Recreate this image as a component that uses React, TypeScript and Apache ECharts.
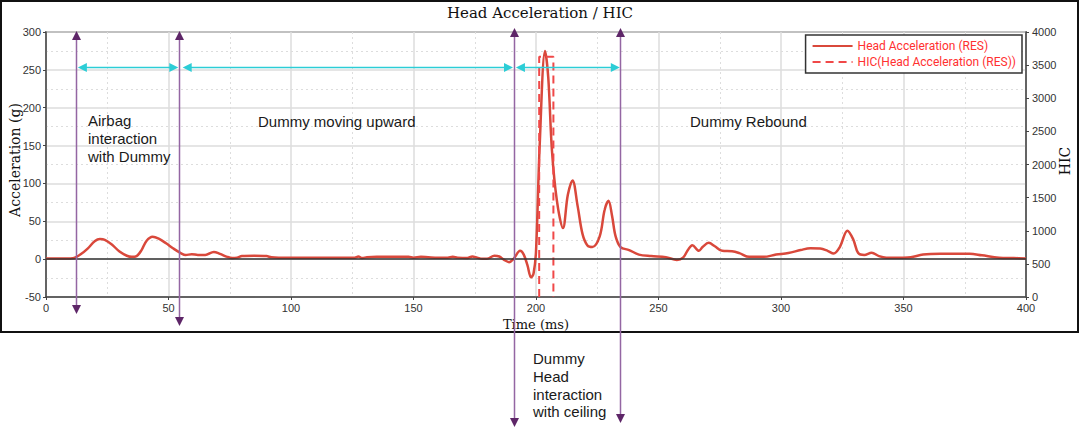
import React, { useEffect, useRef } from "react";
import * as echarts from "echarts";

// Time (ms) and head acceleration (g)
const timeMs = [0, 5, 10, 11.5, 14, 17, 20, 22, 24, 27, 30, 33, 35, 37, 39, 41, 43.5, 46, 49, 52, 55, 57, 59.5, 62, 65, 68.5, 71, 74, 76, 78, 80, 85, 90, 92, 95, 100, 110, 120, 126, 127.5, 129, 131, 135, 140, 148, 150, 153, 156, 160, 164, 166, 168, 172, 174, 176, 178, 180, 183, 185, 187, 189, 191, 193.5, 195, 196.5, 198, 199, 200, 201.5, 203.7, 205, 206.5, 208.5, 211, 213, 214.9, 217, 219, 221, 223, 226, 228, 229.6, 231, 232.5, 234.5, 238, 242, 247, 253, 257.5, 260, 262, 263.8, 266.5, 268, 270.5, 273, 276, 280, 283, 287, 293, 298, 303, 308, 312, 316, 319, 321.5, 324, 327.1, 329.5, 331.5, 334, 337, 340, 343, 350, 353, 358, 365, 377, 382, 389, 395, 400];
const accelG = [1, 1, 1, 1.5, 6, 14, 24, 26.5, 25.5, 19, 10, 4.5, 3, 4, 12, 24, 29.5, 27, 21, 14, 8, 5.5, 6.5, 5.5, 5.5, 9.5, 7, 3, 1.5, 2, 4, 4.5, 4, 2.5, 2, 2, 2, 2, 2, 3.5, 1.5, 2.5, 3, 3, 3, 2, 3, 2.5, 2, 2, 3, 2, 1.5, 3.5, 2, 0.5, 0.5, 4.5, 3.5, -1, -4, 1, 11, 6, -8, -24, -19, 10, 150, 275, 240, 144, 78, 41, 85, 104, 70, 33, 18, 16, 30, 65, 77, 58, 30, 16, 12, 6, 4, 2.5, -1, 2, 12, 18.5, 11, 16, 21.5, 17, 11, 10.5, 8, 3, 3, 6, 8, 12, 14.5, 14, 11, 7.5, 16, 37.5, 26, 8, 5.5, 8.5, 4, 2, 2, 2.5, 6, 7, 7, 5, 2, 1.5, 1];

// HIC window (ms) and value
const hicTime = [201.3, 201.3, 207.1, 207.1];
const hicValue = [0, 3625, 3625, 0];

const xTicks = { min: 0, max: 400, interval: 50 };
const yLeftTicks = { min: -50, max: 300, interval: 50 };
const yRightTicks = { min: 0, max: 4000, interval: 500 };

// Annotations (in data units of time / acceleration)
const phaseTimes = [12.3, 54.2, 191.1, 234.4];
const spanRanges = [[13, 54], [55.8, 190.6], [191.8, 234.2]];
const spanLevel = 254;

const ARROW_TOP = [31, 31, 28, 28];
const ARROW_BOTTOM = [314, 326, 427, 423];

const tickFont = "'Liberation Sans', Arial, sans-serif";
const serif = "'DejaVu Serif', serif";

export default function App() {
  const ref = useRef<HTMLDivElement>(null);
  useEffect(() => {
    document.body.style.margin = "0";
    const chart = echarts.init(ref.current!, undefined, { renderer: "svg" });
    const accelData = timeMs.map((t, i) => [t, accelG[i]]);
    const hicData = hicTime.map((t, i) => [t, hicValue[i]]);
    const axisLabel = { color: "#333", fontFamily: tickFont, fontSize: 11, formatter: (v: number) => String(v) };
    chart.setOption({
      animation: false,
      backgroundColor: "#fff",
      title: {
        text: "Head Acceleration / HIC",
        left: "center",
        top: 0,
        textStyle: { fontFamily: serif, fontSize: 15, fontWeight: "normal", color: "#111" },
      },
      grid: {
        left: 46,
        right: 54,
        top: 32,
        bottom: 140,
        show: true,
        borderColor: "#444",
        borderWidth: 1.5,
        containLabel: false,
        outerBoundsMode: "none",
      },
      legend: {
        orient: "vertical",
        right: 58,
        top: 35,
        itemWidth: 40,
        itemHeight: 10,
        itemGap: 4,
        padding: [5, 6, 5, 6],
        borderColor: "#333",
        borderWidth: 1.5,
        backgroundColor: "#fff",
        itemStyle: { opacity: 0 },
        textStyle: { color: "#ff3030", fontSize: 12, fontFamily: "Roboto, sans-serif" },
        data: ["Head Acceleration (RES)", "HIC(Head Acceleration (RES))"],
      },
      xAxis: {
        type: "value",
        ...xTicks,
        name: "Time (ms)",
        nameLocation: "middle",
        nameGap: 18,
        nameTextStyle: { fontFamily: serif, fontSize: 13, color: "#111" },
        axisLine: { onZero: false, lineStyle: { color: "#444", width: 1.5 } },
        axisTick: { show: true, length: 3, lineStyle: { color: "#444" } },
        axisLabel: { ...axisLabel, margin: 5 },
        splitLine: { show: true, lineStyle: { color: "#ddd", width: 1.5 } },
        minorTick: { show: false, splitNumber: 2 },
        minorSplitLine: { show: true, lineStyle: { color: "#ddd", type: [2, 3] } },
      },
      yAxis: [
        {
          type: "value",
          ...yLeftTicks,
          axisLine: { show: true, lineStyle: { color: "#444", width: 1.5 } },
          axisTick: { show: true, length: 3, lineStyle: { color: "#444" } },
          axisLabel: { ...axisLabel, margin: 5 },
          splitLine: { show: true, lineStyle: { color: "#ddd", width: 1.5 } },
          minorTick: { show: false, splitNumber: 2 },
          minorSplitLine: { show: true, lineStyle: { color: "#ddd", type: [2, 3] } },
        },
        {
          type: "value",
          ...yRightTicks,
          position: "right",
          axisLine: { show: true, lineStyle: { color: "#444", width: 1.5 } },
          axisTick: { show: true, length: 3, lineStyle: { color: "#444" } },
          axisLabel: { ...axisLabel, margin: 6 },
          splitLine: { show: false },
        },
      ],
      series: [
        {
          name: "Head Acceleration (RES)",
          type: "line",
          data: accelData,
          smooth: 0.35,
          symbol: "none",
          lineStyle: { color: "#d9483b", width: 2.5 },
          itemStyle: { color: "#d9483b" },
          z: 3,
          markLine: {
            silent: true,
            symbol: "none",
            label: { show: false },
            lineStyle: { color: "#333", width: 1.5, type: "solid" },
            data: [{ yAxis: 0 }],
          },
        },
        {
          name: "HIC(Head Acceleration (RES))",
          type: "line",
          yAxisIndex: 1,
          data: hicData,
          symbol: "none",
          lineStyle: { color: "#f04848", width: 2, type: [8, 5] },
          itemStyle: { color: "#f04848" },
          z: 4,
        },
      ],
    });

    const px = (t: number) => chart.convertToPixel({ xAxisIndex: 0 }, t) as number;
    const py = (g: number) => chart.convertToPixel({ yAxisIndex: 0 }, g) as number;
    const purpleLine = "#9466a3";
    const purpleHead = "#5e2668";
    const cyan = "#2ccdd6";
    const graphics: any[] = [];
    graphics.push({
      type: "rect",
      shape: { x: 1, y: 1, width: 1077, height: 331 },
      style: { fill: "none", stroke: "#111", lineWidth: 2 },
      silent: true,
      z: 0,
    });
    // Axis names
    graphics.push({
      type: "text",
      x: 15,
      y: 160,
      rotation: Math.PI / 2,
      style: { text: "Acceleration (g)", font: `14px ${serif}`, fill: "#111", align: "center", verticalAlign: "middle" },
      z: 22,
    });
    graphics.push({
      type: "text",
      x: 1065,
      y: 161,
      rotation: Math.PI / 2,
      style: { text: "HIC", font: `14px ${serif}`, fill: "#111", align: "center", verticalAlign: "middle" },
      z: 22,
    });
    phaseTimes.forEach((t, i) => {
      const x = Math.round(px(t)) + 0.5;
      const top = ARROW_TOP[i];
      const bot = ARROW_BOTTOM[i];
      graphics.push({
        type: "line",
        shape: { x1: x, y1: top + 4, x2: x, y2: bot - 4 },
        style: { stroke: purpleLine, lineWidth: 1.5 },
        z: 20,
      });
      graphics.push({
        type: "polygon",
        shape: { points: [[x, top], [x - 4.5, top + 9], [x + 4.5, top + 9]] },
        style: { fill: purpleHead },
        z: 21,
      });
      graphics.push({
        type: "polygon",
        shape: { points: [[x, bot], [x - 4.5, bot - 9], [x + 4.5, bot - 9]] },
        style: { fill: purpleHead },
        z: 21,
      });
    });
    const yc = Math.round(py(spanLevel)) + 0.5;
    spanRanges.forEach(([a, b]) => {
      const x1 = px(a);
      const x2 = px(b);
      graphics.push({
        type: "line",
        shape: { x1: x1 + 4, y1: yc, x2: x2 - 4, y2: yc },
        style: { stroke: cyan, lineWidth: 1.5 },
        z: 20,
      });
      graphics.push({
        type: "polygon",
        shape: { points: [[x1, yc], [x1 + 9, yc - 4.5], [x1 + 9, yc + 4.5]] },
        style: { fill: cyan },
        z: 21,
      });
      graphics.push({
        type: "polygon",
        shape: { points: [[x2, yc], [x2 - 9, yc - 4.5], [x2 - 9, yc + 4.5]] },
        style: { fill: cyan },
        z: 21,
      });
    });
    const annFont = "15px 'Liberation Sans', Arial, sans-serif";
    const texts = [
      { text: "Airbag\ninteraction\nwith Dummy", x: 88, y: 112 },
      { text: "Dummy moving upward", x: 258, y: 113 },
      { text: "Dummy Rebound", x: 690, y: 113 },
      { text: "Dummy\nHead\ninteraction\nwith ceiling", x: 533, y: 350 },
    ];
    texts.forEach((tx) => {
      graphics.push({
        type: "text",
        x: tx.x,
        y: tx.y,
        style: { text: tx.text, font: annFont, fill: "#1a1a1a", lineHeight: 17.7, verticalAlign: "top" },
        z: 22,
      });
    });
    chart.setOption({ graphic: graphics });
    return () => chart.dispose();
  }, []);
  return (
    <div
      ref={ref}
      style={{ position: "fixed", left: 0, top: 0, width: 1080, height: 437, background: "#fff" }}
    />
  );
}
